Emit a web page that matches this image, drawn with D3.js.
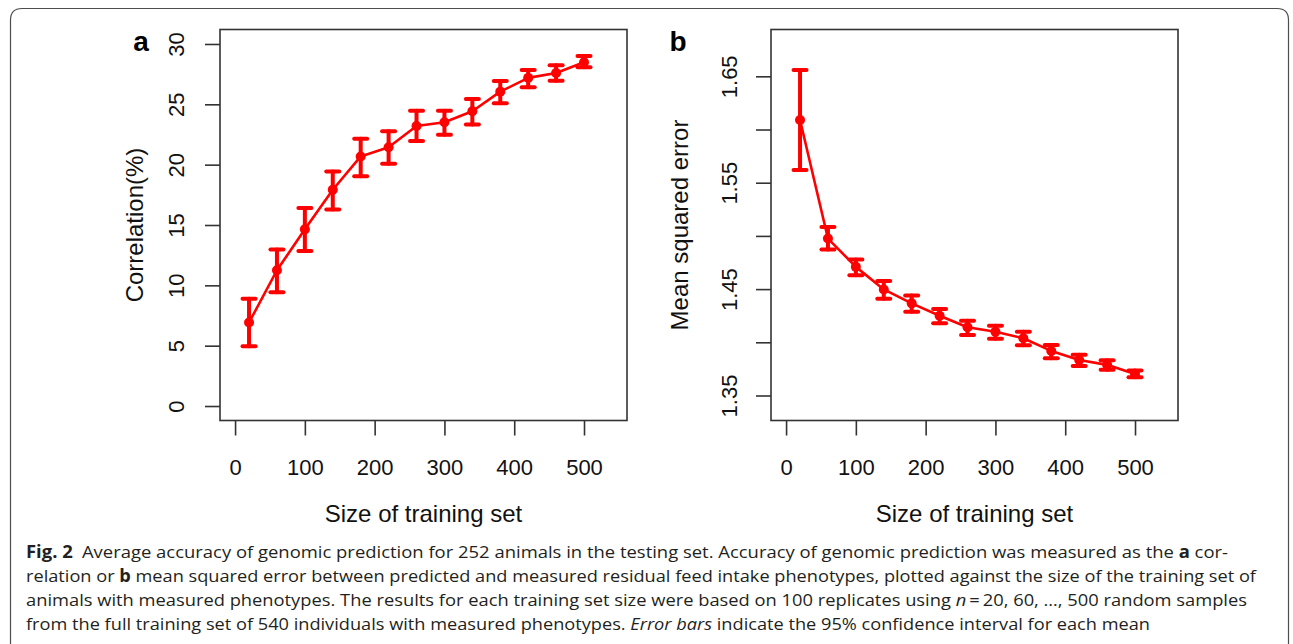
<!DOCTYPE html>
<html>
<head>
<meta charset="utf-8">
<script src="https://cdn.jsdelivr.net/npm/d3@7"></script>
<style>
  html, body { margin: 0; padding: 0; background: #fff; }
  svg { display: block; }
</style>
</head>
<body>
<svg id="chart" width="1293" height="644"></svg>
<script>
// ---------------- data ----------------
const sizes = [20, 60, 100, 140, 180, 220, 260, 300, 340, 380, 420, 460, 500];
const corrMean  = [6.92, 11.25, 14.64, 17.92, 20.68, 21.45, 23.21, 23.52, 24.43, 26.05, 27.19, 27.60, 28.48];
const corrLower = [4.96, 9.43, 12.85, 16.29, 19.05, 20.07, 21.97, 22.47, 23.33, 25.09, 26.41, 26.96, 28.07];
const corrUpper = [8.88, 12.96, 16.40, 19.44, 22.14, 22.77, 24.46, 24.46, 25.45, 26.94, 27.85, 28.23, 29.00];
const mseMean  = [1.609, 1.4975, 1.4709, 1.4497, 1.4366, 1.4250, 1.4141, 1.4100, 1.4038, 1.3919, 1.3834, 1.3788, 1.3703];
const mseLower = [1.562, 1.4872, 1.4631, 1.4409, 1.4288, 1.4178, 1.4069, 1.4034, 1.3972, 1.3850, 1.3778, 1.3741, 1.3672];
const mseUpper = [1.656, 1.5084, 1.4778, 1.4575, 1.4441, 1.4313, 1.4203, 1.4156, 1.4100, 1.3975, 1.3884, 1.3831, 1.3734];
const xTicks = [0, 100, 200, 300, 400, 500];
const corrTicks = [0, 5, 10, 15, 20, 25, 30];
const mseTicks = [1.35, 1.40, 1.45, 1.50, 1.55, 1.60, 1.65];
const mseTickLabels = ["1.35", "", "1.45", "", "1.55", "", "1.65"];
const xTitle = "Size of training set";
const corrTitle = "Correlation(%)";
const mseTitle = "Mean squared error";

// ---------------- drawing ----------------
const svg = d3.select("#chart");
svg.append("rect").attr("width", 1293).attr("height", 644).attr("fill", "#fff");

// outer frame (rounded, open at the bottom)
svg.append("path")
  .attr("d", "M10.5,660 L10.5,20 Q10.5,8.5 22,8.5 L1277,8.5 Q1288.5,8.5 1288.5,20 L1288.5,660")
  .attr("fill", "none").attr("stroke", "#4d4d4d").attr("stroke-width", 1.2);

const FONT = "'Liberation Sans', Arial, sans-serif";
const RED = "#ff0000";

function panel(opts) {
  const g = svg.append("g");
  const x = d3.scaleLinear().domain([-21.6, 561.6]).range([opts.left, opts.right]);
  const y = d3.scaleLinear().domain(opts.yDomain).range([420.5, 29.5]);

  // x axis
  const xAxis = d3.axisBottom(x).tickValues(xTicks).tickSize(15).tickSizeOuter(0).tickPadding(0);
  const gx = g.append("g").attr("transform", "translate(0,420.5)").call(xAxis);
  gx.select(".domain").remove();
  gx.selectAll("line").attr("stroke", "#333").attr("stroke-width", 1.6);
  gx.selectAll("text").attr("font-family", FONT).attr("font-size", 22).attr("fill", "#111")
    .attr("y", 54).attr("dy", 0);

  // y axis
  const yAxis = d3.axisLeft(y).tickValues(opts.yTicks).tickSize(15).tickSizeOuter(0)
    .tickFormat((d, i) => opts.yLabels[i]);
  const gy = g.append("g").attr("transform", `translate(${opts.left},0)`).call(yAxis);
  gy.select(".domain").remove();
  gy.selectAll("line").attr("stroke", "#333").attr("stroke-width", 1.6);
  gy.selectAll("text").attr("font-family", FONT).attr("font-size", 22).attr("fill", "#111")
    .attr("transform", "rotate(-90)").attr("x", 0).attr("y", -opts.tickLabelOff).attr("dy", 0)
    .attr("text-anchor", "middle");

  // box
  g.append("rect").attr("x", opts.left).attr("y", 29.5)
    .attr("width", opts.right - opts.left).attr("height", 391)
    .attr("fill", "none").attr("stroke", "#333").attr("stroke-width", 1.6);

  // titles
  g.append("text").attr("x", (opts.left + opts.right) / 2).attr("y", 522)
    .attr("text-anchor", "middle").attr("font-family", FONT).attr("font-size", 24).attr("fill", "#111")
    .text(xTitle);
  g.append("text")
    .attr("transform", `translate(${opts.yTitleX},225) rotate(-90)`)
    .attr("text-anchor", "middle").attr("font-family", FONT).attr("font-size", 24).attr("fill", "#111")
    .text(opts.yTitle);

  // panel letter
  g.append("text").attr("x", opts.letterX).attr("y", 51).attr("text-anchor", "middle")
    .attr("font-family", FONT).attr("font-weight", "bold").attr("font-size", 28).attr("fill", "#000")
    .text(opts.letter);

  // data
  const data = sizes.map((s, i) => ({ s, m: opts.mean[i], lo: opts.lower[i], hi: opts.upper[i] }));
  const line = d3.line().x(d => x(d.s)).y(d => y(d.m));
  g.append("path").datum(data).attr("d", line).attr("fill", "none")
    .attr("stroke", RED).attr("stroke-width", 2.6).attr("stroke-linejoin", "round");

  const eb = g.append("g").attr("stroke", RED).attr("stroke-linecap", "round");
  eb.selectAll("line.v").data(data).join("line").attr("class", "v")
    .attr("x1", d => x(d.s)).attr("x2", d => x(d.s))
    .attr("y1", d => y(d.lo)).attr("y2", d => y(d.hi)).attr("stroke-width", 4);
  eb.selectAll("line.cu").data(data).join("line").attr("class", "cu")
    .attr("x1", d => x(d.s) - 6.5).attr("x2", d => x(d.s) + 6.5)
    .attr("y1", d => y(d.hi)).attr("y2", d => y(d.hi)).attr("stroke-width", 4);
  eb.selectAll("line.cl").data(data).join("line").attr("class", "cl")
    .attr("x1", d => x(d.s) - 6.5).attr("x2", d => x(d.s) + 6.5)
    .attr("y1", d => y(d.lo)).attr("y2", d => y(d.lo)).attr("stroke-width", 4);

  g.selectAll("circle").data(data).join("circle")
    .attr("cx", d => x(d.s)).attr("cy", d => y(d.m)).attr("r", 5).attr("fill", RED);
}

panel({
  left: 220, right: 627, yDomain: [-1.2, 31.2], yTicks: corrTicks,
  yLabels: corrTicks.map(String), tickLabelOff: 36, yTitle: corrTitle, yTitleX: 143,
  letter: "a", letterX: 141, mean: corrMean, lower: corrLower, upper: corrUpper
});
panel({
  left: 771, right: 1178, yDomain: [1.3265, 1.694], yTicks: mseTicks,
  yLabels: mseTickLabels, tickLabelOff: 34, yTitle: mseTitle, yTitleX: 688,
  letter: "b", letterX: 678, mean: mseMean, lower: mseLower, upper: mseUpper
});

// ---------------- caption ----------------
const CAP_FONT = "'Open Sans', 'Noto Sans', sans-serif";
const captionLines = [
  { y: 558, len: 1202, parts: [["Fig. 2", "b"], ["\u2002Average accuracy of genomic prediction for 252 animals in the testing set. Accuracy of genomic prediction was measured as the ", ""], ["a", "b"], [" cor-", ""]] },
  { y: 582, len: 1230, parts: [["relation or ", ""], ["b", "b"], [" mean squared error between predicted and measured residual feed intake phenotypes, plotted against the size of the training set of", ""]] },
  { y: 606, len: 1221, parts: [["animals with measured phenotypes. The results for each training set size were based on 100 replicates using ", ""], ["n", "i"], ["\u2009=\u200920, 60, \u2026, 500 random samples", ""]] },
  { y: 630, len: 1124, parts: [["from the full training set of 540 individuals with measured phenotypes. ", ""], ["Error bars", "i"], [" indicate the 95% confidence interval for each mean", ""]] }
];
captionLines.forEach(l => {
  const t = svg.append("text").attr("x", 26).attr("y", l.y)
    .attr("font-family", CAP_FONT).attr("font-size", 17).attr("fill", "#231f20")
    .attr("textLength", l.len).attr("lengthAdjust", "spacingAndGlyphs")
    .attr("xml:space", "preserve").style("white-space", "pre");
  l.parts.forEach(([txt, st]) => {
    const ts = t.append("tspan").text(txt);
    if (st === "b") ts.attr("font-weight", "bold");
    if (st === "i") ts.attr("font-style", "italic");
  });
});
</script>
</body>
</html>
